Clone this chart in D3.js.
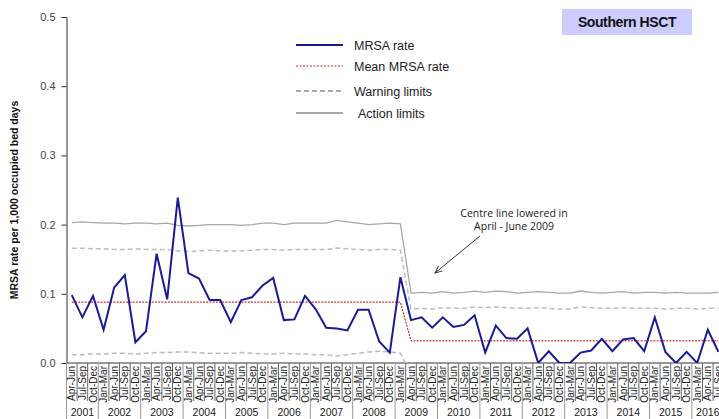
<!DOCTYPE html>
<html>
<head>
<meta charset="utf-8">
<script src="https://cdn.jsdelivr.net/npm/d3@7"></script>
<style>
  body { margin: 0; background: #fff; }
  svg { display: block; font-family: "Liberation Sans", Arial, sans-serif; }
</style>
</head>
<body>
<div id="chart"></div>
<script>
// Quarters shown on the axis: Apr-Jun 2001 through Jul-Sep 2016
const years = ['2001', '2002', '2003', '2004', '2005', '2006', '2007', '2008',
  '2009', '2010', '2011', '2012', '2013', '2014', '2015', '2016'];
const quarterNames = ['Jan-Mar', 'Apr-Jun', 'Jul-Sep', 'Oct-Dec'];
const firstQuarter = 1; // series starts Apr-Jun 2001
const lastQuarter = 2; // series ends Jul-Sep 2016

const mrsaRate = [
  0.098, 0.066, 0.097, 0.048, 0.109, 0.127, 0.030, 0.046, 0.158, 0.092,
  0.239, 0.130, 0.122, 0.091, 0.091, 0.059, 0.091, 0.095, 0.112, 0.123,
  0.062, 0.063, 0.097, 0.078, 0.051, 0.050, 0.047, 0.077, 0.077, 0.031,
  0.015, 0.124, 0.062, 0.066, 0.051, 0.066, 0.052, 0.055, 0.069, 0.015,
  0.054, 0.036, 0.035, 0.050, 0.000, 0.017, 0.000, 0.000, 0.015, 0.018,
  0.035, 0.017, 0.034, 0.036, 0.017, 0.066, 0.016, 0.000, 0.016, 0.000,
  0.048, 0.016,
];

const meanRate = [
  0.088, 0.088, 0.088, 0.088, 0.088, 0.088, 0.088, 0.088, 0.088, 0.088,
  0.088, 0.088, 0.088, 0.088, 0.088, 0.088, 0.088, 0.088, 0.088, 0.088,
  0.088, 0.088, 0.088, 0.088, 0.088, 0.088, 0.088, 0.088, 0.088, 0.088,
  0.088, 0.088, 0.032, 0.032, 0.032, 0.032, 0.032, 0.032, 0.032, 0.032,
  0.032, 0.032, 0.032, 0.032, 0.032, 0.032, 0.032, 0.032, 0.032, 0.032,
  0.032, 0.032, 0.032, 0.032, 0.032, 0.032, 0.032, 0.032, 0.032, 0.032,
  0.032, 0.032,
];

const upperAction = [
  0.203, 0.204, 0.203, 0.202, 0.202, 0.201, 0.202, 0.202, 0.201, 0.202,
  0.199, 0.198, 0.199, 0.200, 0.200, 0.200, 0.199, 0.200, 0.202, 0.202,
  0.200, 0.202, 0.202, 0.202, 0.202, 0.206, 0.204, 0.202, 0.200, 0.201,
  0.202, 0.201, 0.101, 0.102, 0.101, 0.103, 0.101, 0.102, 0.104, 0.102,
  0.104, 0.103, 0.101, 0.102, 0.103, 0.102, 0.101, 0.101, 0.104, 0.102,
  0.101, 0.102, 0.103, 0.101, 0.102, 0.102, 0.101, 0.102, 0.101, 0.101,
  0.101, 0.102,
];

const upperWarning = [
  0.166, 0.166, 0.165, 0.165, 0.164, 0.164, 0.165, 0.164, 0.164, 0.164,
  0.162, 0.161, 0.162, 0.163, 0.162, 0.162, 0.162, 0.163, 0.164, 0.164,
  0.163, 0.164, 0.164, 0.164, 0.164, 0.166, 0.165, 0.164, 0.163, 0.164,
  0.164, 0.163, 0.078, 0.079, 0.078, 0.080, 0.079, 0.079, 0.081, 0.080,
  0.081, 0.080, 0.079, 0.079, 0.080, 0.079, 0.078, 0.078, 0.081, 0.080,
  0.079, 0.079, 0.080, 0.079, 0.079, 0.079, 0.078, 0.079, 0.079, 0.078,
  0.079, 0.079,
];

const lowerWarning = [
  0.012, 0.012, 0.013, 0.013, 0.014, 0.014, 0.013, 0.014, 0.015, 0.015,
  0.016, 0.016, 0.015, 0.014, 0.014, 0.014, 0.015, 0.014, 0.013, 0.013,
  0.014, 0.013, 0.013, 0.012, 0.012, 0.010, 0.012, 0.014, 0.016, 0.017,
  0.016, 0.014, -0.016, -0.015, -0.016, -0.014, -0.016, -0.015, -0.013, -0.015,
  -0.013, -0.014, -0.016, -0.015, -0.014, -0.015, -0.016, -0.016, -0.013, -0.015,
  -0.016, -0.015, -0.014, -0.016, -0.015, -0.015, -0.016, -0.015, -0.015, -0.016,
  -0.015, -0.015,
];

const yTicks = [0, 0.1, 0.2, 0.3, 0.4, 0.5];

const legendItems = [
  { label: 'MRSA rate', stroke: '#1b1b8f', width: 2, dash: null },
  { label: 'Mean MRSA rate', stroke: '#a33', width: 1, dash: '2,1.5' },
  { label: 'Warning limits', stroke: '#555', width: 1.2, dash: '5,3' },
  { label: 'Action limits', stroke: '#555', width: 1.2, dash: null },
];

// build the category list from the years
const categories = [];
years.forEach((yr, yi) => {
  quarterNames.forEach((q, qi) => {
    if (yi === 0 && qi < firstQuarter) return;
    if (yi === years.length - 1 && qi > lastQuarter) return;
    categories.push({ year: yr, quarter: q, index: categories.length });
  });
});

const width = 719;
const height = 419;
const plot = { left: 66.5, top: 17, bottom: 363, step: 10.6 };

const svg = d3.select('#chart').append('svg')
  .attr('width', width)
  .attr('height', height);

const x = d3.scaleBand()
  .domain(categories.map((d) => d.index))
  .range([plot.left, plot.left + plot.step * categories.length])
  .padding(0);
const xc = (i) => x(i) + x.bandwidth() / 2;

const y = d3.scaleLinear()
  .domain([0, 0.5])
  .range([plot.bottom, plot.top]);

svg.append('clipPath').attr('id', 'plot-clip')
  .append('rect')
  .attr('x', plot.left)
  .attr('y', plot.top)
  .attr('width', width - plot.left)
  .attr('height', plot.bottom - plot.top);

// Y axis
const yAxis = svg.append('g')
  .attr('transform', `translate(${plot.left},0)`)
  .call(d3.axisLeft(y).tickValues(yTicks).tickFormat(d3.format('.1f')).tickSize(5).tickPadding(6));
yAxis.select('.domain').attr('stroke', '#333');
yAxis.selectAll('.tick line').attr('stroke', '#333');
yAxis.selectAll('.tick text').attr('font-size', 11).attr('fill', '#444')
  .attr('font-family', '"Liberation Sans", Arial, sans-serif');

svg.append('text')
  .attr('transform', `translate(18,${(plot.top + plot.bottom) / 2 + 10}) rotate(-90)`)
  .attr('text-anchor', 'middle')
  .attr('font-size', 10.5)
  .attr('font-weight', 'bold')
  .attr('fill', '#111')
  .text('MRSA rate per 1,000 occupied bed days');

// X axis: baseline, quarter separators, year separators
const xAxis = svg.append('g');
xAxis.append('line')
  .attr('x1', plot.left).attr('x2', width)
  .attr('y1', plot.bottom).attr('y2', plot.bottom)
  .attr('stroke', '#777').attr('stroke-width', 1.5);

xAxis.selectAll('.q-sep')
  .data(categories)
  .join('line')
  .attr('class', 'q-sep')
  .attr('x1', (d) => x(d.index) + x.bandwidth())
  .attr('x2', (d) => x(d.index) + x.bandwidth())
  .attr('y1', plot.bottom)
  .attr('y2', (d) => (d.quarter === 'Oct-Dec' ? height : 401))
  .attr('stroke', (d) => (d.quarter === 'Oct-Dec' ? '#999' : '#666'))
  .attr('stroke-width', 1);

xAxis.append('line')
  .attr('x1', plot.left).attr('x2', plot.left)
  .attr('y1', plot.bottom).attr('y2', height)
  .attr('stroke', '#999');

xAxis.selectAll('.q-label')
  .data(categories)
  .join('text')
  .attr('class', 'q-label')
  .attr('transform', (d) => `translate(${xc(d.index) + 3.6},366) rotate(-90)`)
  .attr('text-anchor', 'end')
  .attr('font-size', 10)
  .attr('fill', '#222')
  .text((d) => d.quarter);

const yearGroups = d3.groups(categories, (d) => d.year);
xAxis.selectAll('.y-label')
  .data(yearGroups)
  .join('text')
  .attr('class', 'y-label')
  .attr('x', ([, qs]) => (x(qs[0].index) + x(qs[qs.length - 1].index) + x.bandwidth()) / 2)
  .attr('y', 416)
  .attr('text-anchor', 'middle')
  .attr('font-size', 10.5)
  .attr('fill', '#222')
  .text(([yr]) => yr);

// Control limit lines and series
const lines = svg.append('g').attr('clip-path', 'url(#plot-clip)');
const lineGen = (arr) => d3.line()
  .x((d, i) => xc(i))
  .y((d) => y(d))(arr);

lines.append('path')
  .attr('d', lineGen(upperAction))
  .attr('fill', 'none')
  .attr('stroke', '#a8a8a8')
  .attr('stroke-width', 1.3);

[upperWarning, lowerWarning].forEach((arr) => {
  lines.append('path')
    .attr('d', lineGen(arr))
    .attr('fill', 'none')
    .attr('stroke', '#bdbdbd')
    .attr('stroke-width', 1.5)
    .attr('stroke-dasharray', '5,3');
});

lines.append('path')
  .attr('d', lineGen(meanRate))
  .attr('fill', 'none')
  .attr('stroke', '#c00000')
  .attr('stroke-width', 1)
  .attr('stroke-dasharray', '2,1.2');

lines.append('path')
  .attr('d', lineGen(mrsaRate))
  .attr('fill', 'none')
  .attr('stroke', '#1b1b96')
  .attr('stroke-width', 2);

// Legend
const legend = svg.append('g').attr('transform', 'translate(296,45)');
const legendRowY = [0, 21, 46, 68];
legendItems.forEach((item, i) => {
  const row = legend.append('g').attr('transform', `translate(0,${legendRowY[i]})`);
  row.append('line')
    .attr('x1', 0).attr('x2', 47)
    .attr('stroke', item.stroke)
    .attr('stroke-width', item.width)
    .attr('stroke-dasharray', item.dash);
  row.append('text')
    .attr('x', i === 3 ? 62 : 58)
    .attr('y', 4.5)
    .attr('font-size', 12.5)
    .attr('fill', '#222')
    .text(item.label);
});

// Title box
const title = svg.append('g');
title.append('rect')
  .attr('x', 562).attr('y', 9)
  .attr('width', 130).attr('height', 26)
  .attr('fill', '#ccccff');
title.append('text')
  .attr('x', 627).attr('y', 27)
  .attr('text-anchor', 'middle')
  .attr('font-size', 14)
  .attr('font-weight', 'bold')
  .attr('letter-spacing', -0.4)
  .attr('fill', '#111')
  .text('Southern HSCT');

// Annotation
svg.append('defs').append('marker')
  .attr('id', 'arrow')
  .attr('viewBox', '0 0 10 10')
  .attr('refX', 9).attr('refY', 5)
  .attr('markerWidth', 8).attr('markerHeight', 8)
  .attr('orient', 'auto')
  .append('path')
  .attr('d', 'M0,1 L9,5 L0,9')
  .attr('fill', 'none')
  .attr('stroke', '#333')
  .attr('stroke-width', 1.2);

const note = svg.append('g');
note.selectAll('text')
  .data(['Centre line lowered in', 'April - June 2009'])
  .join('text')
  .attr('x', 514)
  .attr('y', (d, i) => 217 + i * 13)
  .attr('text-anchor', 'middle')
  .attr('font-size', 10.5)
  .attr('font-family', '"Open Sans", sans-serif')
  .attr('fill', '#222')
  .text((d) => d);
note.append('line')
  .attr('x1', 480).attr('y1', 236)
  .attr('x2', 435).attr('y2', 273)
  .attr('stroke', '#333')
  .attr('stroke-width', 1)
  .attr('marker-end', 'url(#arrow)');
</script>
</body>
</html>
